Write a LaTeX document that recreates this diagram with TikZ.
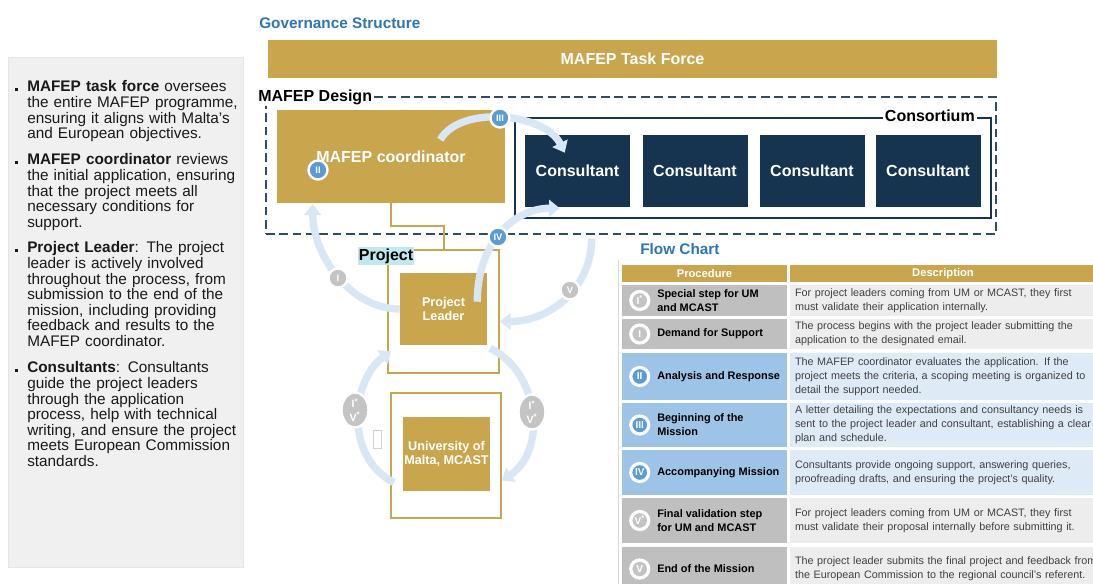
\documentclass[tikz,border=0pt]{standalone}
\usepackage{fontspec}
\setmainfont{Liberation Sans}
\usetikzlibrary{shapes.geometric, arrows.meta, positioning, calc}

\newcommand{\unitpx}{0.75pt}
\newcommand{\setsize}[2]{\fontsize{#1}{#2}\selectfont}

\definecolor{gold}{HTML}{C9A64D}
\definecolor{navy}{HTML}{16344F}
\definecolor{dashblue}{HTML}{2F4B68}
\definecolor{titleblue}{HTML}{2E75B6}
\definecolor{panelgray}{HTML}{F0F0F0}
\definecolor{arrowblue}{HTML}{D8E7F5}
\definecolor{badgeblue}{HTML}{5B9BD5}
\definecolor{badgegray}{HTML}{C4C4C4}
\definecolor{rowgray}{HTML}{BFBFBF}
\definecolor{rowlight}{HTML}{EDEDED}
\definecolor{rowblue}{HTML}{9DC3E6}
\definecolor{rowpale}{HTML}{DEEBF7}
\definecolor{tagcyan}{HTML}{BFE9EF}
\definecolor{desctext}{HTML}{404040}

\begin{document}
\begin{tikzpicture}[x=0.75pt, y=-0.75pt,
    % Styles
    goldbox/.style={
        rectangle, fill=gold, text=white,
        font=\bfseries\setsize{12}{14}, align=center, inner sep=0pt
    },
    framebox/.style={rectangle, draw=gold, line width=1.5pt, fill=white},
    consultant/.style={
        rectangle, fill=navy, text=white,
        font=\bfseries\setsize{12}{14},
        minimum width=105*\unitpx, minimum height=72*\unitpx
    },
    tag/.style={fill=white, text=black, font=\bfseries\setsize{12}{14}, inner sep=1.5pt},
    title/.style={text=titleblue, font=\bfseries\setsize{11.5}{13}, inner sep=0pt, anchor=west},
    bullettext/.style={
        text width=212*\unitpx, align=left, font=\setsize{11.5}{11.7},
        text=black!90, inner sep=0pt, anchor=north west
    },
    flow/.style={draw=arrowblue, line width=5.5pt, -{Triangle[length=8pt, width=12.5pt]}},
    roundmark/.style={
        circle, draw=white, line width=1.8pt, text=white,
        font=\bfseries\setsize{7}{8}, minimum size=19*\unitpx, inner sep=0pt
    },
    ovalmark/.style={
        ellipse, draw=white, line width=1.8pt, fill=badgegray, text=white,
        font=\bfseries\setsize{8}{10}, align=center,
        minimum width=27*\unitpx, minimum height=35*\unitpx, inner sep=0pt
    },
    header/.style={
        rectangle, fill=gold, text=white, font=\bfseries\setsize{8.4}{10},
        minimum height=17*\unitpx, inner sep=0pt
    },
    proccell/.style={rectangle, minimum width=165*\unitpx, inner sep=0pt},
    desccell/.style={
        rectangle, text width=320*\unitpx, inner xsep=5*\unitpx, inner ysep=0pt,
        align=left, text=desctext, font=\setsize{8.1}{10.6}
    },
    proctext/.style={font=\bfseries\setsize{8.2}{10.6}, align=left, inner sep=0pt},
    tablemark/.style={
        circle, draw=white, line width=2.4pt, text=white,
        font=\bfseries\setsize{7.5}{8}, minimum size=18*\unitpx, inner sep=0pt
    }
]
\useasboundingbox (0,0) rectangle (1093,584);
\clip (0,0) rectangle (1093,584);
\fill[white] (0,0) rectangle (1093,584);

% === LEFT PANEL ===
\node (panel) [rectangle, fill=panelgray, draw=gray!20, minimum width=235*\unitpx, minimum height=510*\unitpx] at (125.5,312) {};
\node (pA) [bullettext] at (27,80.5) {\llap{\rule[0.5pt]{2.2pt}{2.2pt}\hspace{6.8pt}}\textbf{MAFEP task force} oversees\\the entire MAFEP programme,\\ensuring it aligns with Malta's\\and European objectives.};
\node (pB) [bullettext] at (27,153.5) {\llap{\rule[0.5pt]{2.2pt}{2.2pt}\hspace{6.8pt}}\textbf{MAFEP coordinator} reviews\\the initial application, ensuring\\that the project meets all\\necessary conditions for\\support.};
\node (pC) [bullettext] at (27,241.5) {\llap{\rule[0.5pt]{2.2pt}{2.2pt}\hspace{6.8pt}}\textbf{Project Leader}: The project\\leader is actively involved\\throughout the process, from\\submission to the end of the\\mission, including providing\\feedback and results to the\\MAFEP coordinator.};
\node (pD) [bullettext] at (27,361.5) {\llap{\rule[0.5pt]{2.2pt}{2.2pt}\hspace{6.8pt}}\textbf{Consultants}: Consultants\\guide the project leaders\\through the application\\process, help with technical\\writing, and ensure the project\\meets European Commission\\standards.};

% === GOVERNANCE STRUCTURE ===
\node (govtitle) [title] at (259,23) {Governance Structure};
\node (taskforce) [goldbox, minimum width=729*\unitpx, minimum height=38*\unitpx] at (632.5,59) {MAFEP Task Force};

\node (design) [rectangle, draw=dashblue, line width=2pt, dash pattern=on 6.5pt off 3.5pt, minimum width=730*\unitpx, minimum height=137*\unitpx] at (631,165.5) {};
\node (coord) [goldbox, minimum width=228*\unitpx, minimum height=93*\unitpx] at (391,156.5) {MAFEP coordinator};
\node (consortium) [rectangle, draw=navy, line width=1.5pt, minimum width=476*\unitpx, minimum height=100*\unitpx] at (753,168) {};
\node (c1) [consultant] at (577.5,171) {Consultant};
\node (c2) [consultant] at (695,171) {Consultant};
\node (c3) [consultant] at (812,171) {Consultant};
\node (c4) [consultant] at (928,171) {Consultant};
\node (designtag) [tag, anchor=west] at (256,97) {MAFEP Design};
\node (consortag) [tag, anchor=east] at (977,116) {Consortium};

% Project and university
\node (proj) [framebox, minimum width=111*\unitpx, minimum height=123*\unitpx] at (443.5,311.5) {};
\node (leader) [goldbox, font=\bfseries\setsize{9.5}{10.5}, minimum width=87*\unitpx, minimum height=72*\unitpx] at (443.5,309) {Project\\Leader};
\node (projtag) [tag, fill=tagcyan, inner sep=1pt] at (386,256) {Project};
\node (uni) [framebox, minimum width=110*\unitpx, minimum height=125*\unitpx] at (446,455.5) {};
\node (uniinner) [goldbox, font=\bfseries\setsize{9.5}{10.5}, minimum width=87*\unitpx, minimum height=74*\unitpx] at (446.5,454) {University of\\Malta, MCAST};
\node (gap) [rectangle, draw=gray!35, line width=0.4pt, minimum width=8*\unitpx, minimum height=18*\unitpx, inner sep=0pt] at (377,439) {};

% Coordinator -> project link
\draw[gold, line width=1.5pt] (coord.south) |- ($(coord.south)!0.5!(proj.north)$) -| (proj.north);

% === ARROWS ===
\draw[flow] (leader.west) .. controls +(-50,0) and +(0,50) .. ($(coord.south west)+(36,1)$);
\draw[flow] ($(coord.north east)+(-65,30)$) .. controls +(20,-35) and +(-20,-40) .. ($(c1.north west)+(40,18)$);
\draw[flow] ($(leader.north east)+(-10,29)$) .. controls +(0,-60) and +(-45,0) .. ($(c1.south west)+(35,1)$);
\draw[flow] ($(design.south west)+(327,3)$) .. controls +(0,50) and +(50,0) .. ($(proj.east)+(0,10)$);
\draw[flow] ($(uni.west)+(4,27)$) .. controls +(-50,-25) and +(-40,30) .. ($(proj.south west)+(4,-23)$);
\draw[flow] ($(leader.south east)+(3,3)$) .. controls +(50,25) and +(45,-30) .. ($(uni.east)+(0,25)$);

% Step marks
\node (markI) [roundmark, fill=badgegray] at (338,278) {I};
\node (markII) [roundmark, fill=badgeblue] at (318,170) {II};
\node (markIII) [roundmark, fill=badgeblue] at (500,118) {III};
\node (markIV) [roundmark, fill=badgeblue] at (498,237) {IV};
\node (markV) [roundmark, fill=badgegray] at (570,290) {V};
\node (ovalL) [ovalmark] at (355,410) {I\textsuperscript{*}\\V\textsuperscript{*}};
\node (ovalR) [ovalmark] at (532,412) {I\textsuperscript{*}\\V\textsuperscript{*}};

% === FLOW CHART ===
\node (flowtitle) [title] at (640,249) {Flow Chart};
\draw[gray!30] (618,260) -- (618,584);

\node (hdproc) [header, minimum width=165*\unitpx] at (704.5,273.5) {Procedure};
\node (hddesc) [header, minimum width=306*\unitpx] at (943,273.5) {Description};

\node (proc1) [proccell, fill=rowgray, minimum height=31*\unitpx] at (704.5,300.5) {};
\node (desc1) [desccell, fill=rowlight, minimum height=31*\unitpx] at (955,300.5) {For project leaders coming from UM or MCAST, they first\\must validate their application internally.};
\node (tm1) [tablemark, fill=badgegray] at ($(proc1.west)+(18,0)$) {I\textsuperscript{*}};
\node (pt1) [proctext, right=5pt of tm1] {Special step for UM\\and MCAST};

\node (proc2) [proccell, fill=rowgray, minimum height=30*\unitpx] at (704.5,334) {};
\node (desc2) [desccell, fill=rowlight, minimum height=30*\unitpx] at (955,334) {The process begins with the project leader submitting the\\application to the designated email.};
\node (tm2) [tablemark, fill=badgegray] at ($(proc2.west)+(18,0)$) {I};
\node (pt2) [proctext, right=5pt of tm2] {Demand for Support};

\node (proc3) [proccell, fill=rowblue, minimum height=47*\unitpx] at (704.5,376.5) {};
\node (desc3) [desccell, fill=rowpale, minimum height=47*\unitpx] at (955,376.5) {The MAFEP coordinator evaluates the application. If the\\project meets the criteria, a scoping meeting is organized to\\detail the support needed.};
\node (tm3) [tablemark, fill=badgeblue] at ($(proc3.west)+(18,0)$) {II};
\node (pt3) [proctext, right=5pt of tm3] {Analysis and Response};

\node (proc4) [proccell, fill=rowblue, minimum height=44*\unitpx] at (704.5,425) {};
\node (desc4) [desccell, fill=rowpale, minimum height=44*\unitpx] at (955,425) {A letter detailing the expectations and consultancy needs is\\sent to the project leader and consultant, establishing a clear\\plan and schedule.};
\node (tm4) [tablemark, fill=badgeblue] at ($(proc4.west)+(18,0)$) {III};
\node (pt4) [proctext, right=5pt of tm4] {Beginning of the\\Mission};

\node (proc5) [proccell, fill=rowblue, minimum height=45*\unitpx] at (704.5,472.5) {};
\node (desc5) [desccell, fill=rowpale, minimum height=45*\unitpx] at (955,472.5) {Consultants provide ongoing support, answering queries,\\proofreading drafts, and ensuring the project's quality.};
\node (tm5) [tablemark, fill=badgeblue] at ($(proc5.west)+(18,0)$) {IV};
\node (pt5) [proctext, right=5pt of tm5] {Accompanying Mission};

\node (proc6) [proccell, fill=rowgray, minimum height=45*\unitpx] at (704.5,520.5) {};
\node (desc6) [desccell, fill=rowlight, minimum height=45*\unitpx] at (955,520.5) {For project leaders coming from UM or MCAST, they first\\must validate their proposal internally before submitting it.};
\node (tm6) [tablemark, fill=badgegray] at ($(proc6.west)+(18,0)$) {V\textsuperscript{*}};
\node (pt6) [proctext, right=5pt of tm6] {Final validation step\\for UM and MCAST};

\node (proc7) [proccell, fill=rowgray, minimum height=44*\unitpx] at (704.5,569) {};
\node (desc7) [desccell, fill=rowlight, minimum height=44*\unitpx] at (955,569) {The project leader submits the final project and feedback from\\the European Commission to the regional council's referent.};
\node (tm7) [tablemark, fill=badgegray] at ($(proc7.west)+(18,0)$) {V};
\node (pt7) [proctext, right=5pt of tm7] {End of the Mission};

\end{tikzpicture}
\end{document}
